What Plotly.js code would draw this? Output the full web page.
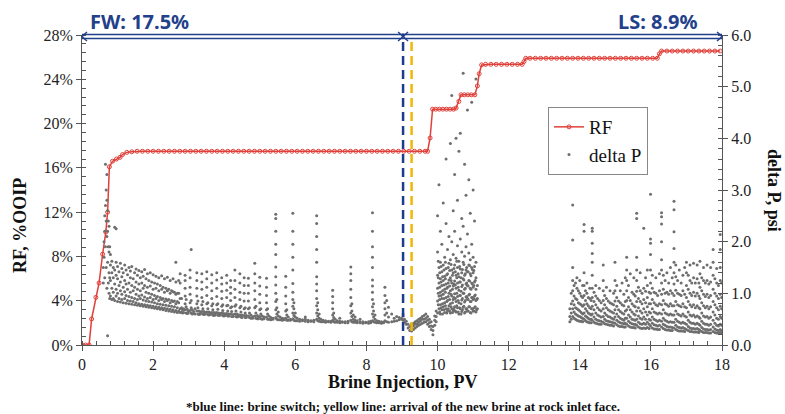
<!DOCTYPE html>
<html>
<head>
<meta charset="utf-8">
<script src="https://cdn.plot.ly/plotly-3.0.1.min.js"></script>
<style>html,body{margin:0;padding:0;background:#fff}#chart{width:785px;height:414px}</style>
</head>
<body>
<div id="chart"></div>
<script>
// ---------- RF (% OOIP) vs brine injection (PV) ----------
const rfPV = [0,0.1,0.2,0.27,0.39,0.48,0.58,0.67,0.72,0.77,0.86,0.97,1.07,1.14,1.26,
  1.40,1.55,1.70,1.85,2.00,2.15,2.30,2.45,2.60,2.75,2.90,3.05,3.20,3.35,3.50,3.65,3.80,3.95,
  4.10,4.25,4.40,4.55,4.70,4.85,5.00,5.15,5.30,5.45,5.60,5.75,5.90,6.05,6.20,6.35,6.50,6.65,
  6.80,6.95,7.10,7.25,7.40,7.55,7.70,7.85,8.00,8.15,8.30,8.45,8.60,8.75,8.90,9.05,9.20,9.35,
  9.50,9.65,9.72,9.79,9.86,9.95,10.05,10.15,10.25,10.35,10.45,10.52,10.60,10.66,10.75,10.85,
  10.95,11.05,11.12,11.17,11.24,11.35,11.50,11.65,11.80,11.95,12.10,12.25,12.38,12.43,12.48,
  12.60,12.75,12.90,13.05,13.20,13.35,13.50,13.65,13.80,13.95,14.10,14.25,14.40,14.55,14.70,
  14.85,15.00,15.15,15.30,15.45,15.60,15.75,15.90,16.05,16.18,16.24,16.30,16.45,16.60,16.75,
  16.90,17.05,17.20,17.35,17.50,17.65,17.80,17.95];
const rfPct = [0,0,0,2.35,4.3,5.6,8.2,10.2,12.0,16.1,16.6,16.8,16.95,17.2,17.4,
  17.45,17.5,17.5,17.5,17.5,17.5,17.5,17.5,17.5,17.5,17.5,17.5,17.5,17.5,17.5,17.5,17.5,17.5,
  17.5,17.5,17.5,17.5,17.5,17.5,17.5,17.5,17.5,17.5,17.5,17.5,17.5,17.5,17.5,17.5,17.5,17.5,
  17.5,17.5,17.5,17.5,17.5,17.5,17.5,17.5,17.5,17.5,17.5,17.5,17.5,17.5,17.5,17.5,17.5,17.5,
  17.5,17.5,17.5,18.7,21.3,21.3,21.3,21.3,21.3,21.3,21.3,21.4,22.0,22.6,22.6,22.6,
  22.6,22.6,23.4,24.5,25.3,25.35,25.35,25.35,25.35,25.35,25.35,25.35,25.35,25.6,25.9,
  25.9,25.9,25.9,25.9,25.9,25.9,25.9,25.9,25.9,25.9,25.9,25.9,25.9,25.9,25.9,
  25.9,25.9,25.9,25.9,25.9,25.9,25.9,25.9,25.9,25.9,26.3,26.55,26.55,26.55,26.55,
  26.55,26.55,26.55,26.55,26.55,26.55,26.55,26.55];

// ---------- delta P (psi): columns of [PV, [psi readings]] ----------
const dpRise = [
 [0.60,[1.2,1.5]],[0.62,[1.7,2.0]],[0.64,[1.3,2.2,2.5]],[0.66,[1.9,2.7,3.5]],[0.68,[1.5,2.4,3.0]],
 [0.70,[1.1,2.1,2.8,3.3]],[0.72,[0.18,1.6,2.2,2.6]],[0.74,[1.2,1.9,2.4]],[0.76,[1.0,1.4,1.8,2.3]],[0.78,[0.9,1.3,1.9]]];
const dpBandFW = [
 [0.80,[0.95,1.25,1.55,1.75]],[0.84,[0.88,1.1,1.4,1.62]],[0.88,[0.9,1.02,1.3,1.5]],[0.92,[0.86,1.18,1.45,2.28]],
 [0.96,[0.95,1.08,1.35,1.6,2.25]],[1.00,[0.84,1.0,1.28,1.52]],[1.04,[0.9,1.15,1.42]],[1.08,[0.83,1.05,1.22,1.58]],
 [1.12,[0.88,0.98,1.32,1.48]],[1.16,[0.82,1.12,1.4]],[1.20,[0.9,1.03,1.25,1.55]],[1.24,[0.81,0.96,1.18,1.45]],
 [1.28,[0.86,1.08,1.36]],[1.32,[0.8,0.94,1.2,1.5]],[1.36,[0.85,1.02,1.3,1.43]],[1.40,[0.79,0.92,1.15,1.52]],
 [1.44,[0.84,1.05,1.28]],[1.48,[0.78,0.9,1.12,1.4]],[1.52,[0.82,0.98,1.22,1.47]],[1.56,[0.77,0.88,1.08,1.35]],
 [1.60,[0.8,0.95,1.18,1.44]],[1.64,[0.76,0.9,1.05,1.3]],[1.68,[0.79,0.97,1.2,1.42]],[1.72,[0.75,0.87,1.1,1.33]],
 [1.76,[0.78,0.93,1.15,1.46]],[1.80,[0.74,0.85,1.02,1.28]],[1.84,[0.77,0.9,1.12,1.38]],[1.88,[0.73,0.84,1.0,1.25]],
 [1.92,[0.76,0.92,1.14,1.4]],[1.96,[0.72,0.83,0.98,1.22]],[2.00,[0.75,0.88,1.08,1.36]],[2.04,[0.71,0.82,0.96,1.2]],
 [2.08,[0.74,0.9,1.1,1.33]],[2.12,[0.7,0.8,0.94,1.18]],[2.16,[0.73,0.86,1.05,1.3]],[2.20,[0.69,0.79,0.92,1.15]],
 [2.24,[0.72,0.88,1.08,1.34]],[2.28,[0.68,0.78,0.9,1.12]],[2.32,[0.71,0.84,1.02,1.28]],[2.36,[0.67,0.77,0.89,1.1]],
 [2.40,[0.7,0.86,1.05,1.31]],[2.44,[0.66,0.76,0.88,1.08]],[2.48,[0.69,0.82,1.0,1.25]],[2.52,[0.65,0.75,0.86,1.05]],
 [2.56,[0.68,0.84,1.03,1.28]],[2.60,[0.64,0.74,0.85,1.02]],[2.64,[0.67,0.8,0.98,1.22,1.6]],[2.68,[0.63,0.72,0.84,1.0]],
 [2.72,[0.66,0.82,1.0,1.25]],[2.76,[0.63,0.7,0.9,1.2,1.38]]];
const dpSpikesA = [
 [2.80,[0.64,0.72,0.9]],[2.83,[0.62,0.68]],[2.86,[0.63,0.7]],[2.90,[0.68,0.8,0.95,1.1,1.25,1.35]],[2.93,[0.62,0.74,0.88]],
 [2.96,[0.61,0.69]],[2.99,[0.62,0.66]],[3.04,[0.67,0.82,0.98,1.12,1.3,1.45]],[3.07,[0.62,0.72,0.86,1.85]],[3.10,[0.6,0.68]],
 [3.14,[0.61,0.65]],[3.18,[0.6,0.7]],[3.23,[0.66,0.8,0.95,1.1,1.25,1.4]],[3.26,[0.6,0.72,0.85]],[3.29,[0.59,0.66]],
 [3.33,[0.6,0.64]],[3.37,[0.65,0.78,0.92,1.08,1.22,1.38]],[3.40,[0.6,0.7,0.84]],[3.43,[0.59,0.65]],[3.47,[0.6,0.63]],
 [3.51,[0.64,0.8,0.96,1.12,1.28,1.42]],[3.54,[0.59,0.7,0.82]],[3.57,[0.58,0.64]],[3.61,[0.59,0.62]],
 [3.65,[0.63,0.76,0.9,1.05,1.2,1.36]],[3.68,[0.58,0.68,0.8]],[3.71,[0.57,0.63]],[3.75,[0.58,0.62]],
 [3.79,[0.63,0.78,0.94,1.1,1.26,1.4]],[3.82,[0.58,0.69,0.8]],[3.85,[0.57,0.62]],[3.89,[0.58,0.61]],
 [3.93,[0.62,0.75,0.9,1.04,1.18,1.3]],[3.96,[0.57,0.67,0.78]],[3.99,[0.56,0.61]],[4.03,[0.57,0.6]],
 [4.07,[0.61,0.76,0.92,1.06,1.2,1.35]],[4.10,[0.56,0.66,0.77]],[4.13,[0.56,0.6]],[4.18,[0.6,0.72,0.86,1.0,1.12,1.25]],
 [4.21,[0.55,0.65,0.74]],[4.25,[0.55,0.59]],[4.30,[0.6,0.75,0.92,1.08,1.25,1.45]],[4.33,[0.55,0.66,0.78]],
 [4.36,[0.54,0.6]],[4.40,[0.55,0.58]],[4.44,[0.58,0.72,0.88,1.02,1.2,1.38]],[4.47,[0.54,0.64,0.75]],
 [4.50,[0.53,0.58]],[4.56,[0.57,0.7,0.85,1.0,1.15,1.3]],[4.59,[0.53,0.62,0.72]],[4.62,[0.53,0.57]]];
const dpSpikesB = [
 [4.68,[0.56,0.7,0.85,1.0,1.15,1.29]],[4.71,[0.53,0.62,0.72]],[4.75,[0.52,0.58]],[4.80,[0.52,0.55]],
 [4.86,[0.56,0.72,0.88,1.05,1.2,1.38,1.58]],[4.89,[0.52,0.62,0.75]],[4.93,[0.51,0.57]],[4.96,[0.51,0.54]],
 [5.00,[0.55,0.68,0.82,0.98,1.14,1.31]],[5.03,[0.51,0.6,0.7]],[5.07,[0.5,0.56]],[5.12,[0.51,0.54]],
 [5.19,[0.54,0.68,0.82,0.96,1.12,1.29]],[5.22,[0.5,0.6,0.7]],[5.26,[0.5,0.56]],[5.31,[0.49,0.53]],[5.37,[0.5,0.52]],
 [5.45,[0.53,0.68,0.84,1.0,1.16,1.32,1.51,1.75,1.95,2.2,2.45,2.53]],[5.48,[0.5,0.6,0.72,0.88]],[5.52,[0.49,0.56,0.64]],
 [5.57,[0.49,0.54]],[5.63,[0.48,0.52]],[5.68,[0.49,0.51]],[5.73,[0.52,0.66,0.8,0.95,1.12,1.33]],[5.76,[0.48,0.58,0.68]],
 [5.80,[0.48,0.54]],[5.86,[0.48,0.5]],[5.93,[0.51,0.62,0.75,0.88,1.02,1.19,1.45,1.7,1.95,2.2,2.55]],
 [5.96,[0.48,0.57,0.7,0.82]],[6.00,[0.47,0.54,0.62]],[6.05,[0.47,0.52]],[6.12,[0.46,0.5]],[6.20,[0.47,0.49]],
 [6.28,[0.46,0.5,0.54]],[6.36,[0.45,0.48]],[6.44,[0.46,0.47]],[6.52,[0.45,0.48]],
 [6.60,[0.5,0.62,0.76,0.9,1.05,1.18,1.32,1.6,1.85,2.1,2.35,2.5]],[6.63,[0.47,0.56,0.68,0.82]],[6.67,[0.46,0.52,0.6]],
 [6.72,[0.45,0.5]],[6.78,[0.45,0.48]],[6.85,[0.44,0.47]],[6.93,[0.45,0.46]],[7.00,[0.44,0.46]],
 [7.05,[0.48,0.58,0.7,0.82,0.94,1.06]],[7.08,[0.45,0.53,0.62]],[7.12,[0.44,0.5]],[7.18,[0.44,0.47]],
 [7.25,[0.43,0.46,0.52]],[7.32,[0.44,0.45]],[7.40,[0.43,0.45]],[7.48,[0.43,0.46]],
 [7.56,[0.48,0.62,0.76,0.92,1.08,1.25,1.38,1.51]],[7.59,[0.45,0.55,0.66,0.8]],[7.63,[0.44,0.5,0.58]],
 [7.68,[0.44,0.48,0.54]],[7.74,[0.43,0.47]],[7.82,[0.43,0.45,0.5]],[7.90,[0.42,0.45]],[7.98,[0.43,0.44]],
 [8.06,[0.42,0.45]],[8.12,[0.43,0.46]],[8.17,[0.47,0.6,0.74,0.88,1.02,1.14,1.26,1.5,1.7,1.9,2.2,2.56]],
 [8.20,[0.45,0.54,0.66,0.8]],[8.24,[0.44,0.5,0.58]],[8.29,[0.43,0.47]],[8.35,[0.43,0.46]],[8.42,[0.42,0.45]],
 [8.48,[0.43,0.44]],[8.52,[0.47,0.58,0.7,0.82,0.96,1.12]],[8.57,[0.45,0.62,0.86]],[8.62,[0.44,0.54,0.73]],
 [8.71,[0.45,0.6]],[8.78,[0.46,0.52]],[8.85,[0.47,0.55]],[8.92,[0.49,0.53]]];
const dpSwitch = [
 [8.99,[0.5,0.52]],[9.03,[0.48,0.56,0.6]],[9.07,[0.44,0.5]],[9.12,[0.4,0.46]],[9.17,[0.33,0.4]],[9.22,[0.28,0.36]],
 [9.27,[0.27,0.33,0.4]],[9.32,[0.3,0.37,0.42]],[9.37,[0.33,0.4,0.45]],[9.42,[0.36,0.41,0.47]],[9.47,[0.38,0.44,0.5]],
 [9.52,[0.4,0.47,0.52]],[9.57,[0.42,0.5,0.55]],[9.62,[0.44,0.5,0.57]],[9.67,[0.45,0.52,0.6]],[9.72,[0.4,0.48,0.55]],
 [9.77,[0.36,0.43,0.5]],[9.82,[0.3,0.37,0.45]],[9.87,[0.2,0.28,0.36]],[9.92,[0.38,0.48,0.56]],[9.96,[0.45,0.55,0.66]]];
const dpCloudLS = [
 [10.00,[0.62,0.85,1.1,1.35,1.8,2.5]],[10.02,[0.78,1.0,1.3,1.62]],[10.04,[0.7,0.95,1.2,1.5,3.1]],[10.06,[0.64,0.88,1.12,1.4]],
 [10.08,[0.6,0.78,1.02,1.28,1.6,2.2]],[10.10,[0.72,0.96,1.22,1.52]],[10.12,[0.68,0.9,1.15,1.42,1.95]],[10.14,[0.6,0.8,1.05,1.32]],
 [10.16,[0.74,0.98,1.25,1.55,2.75]],[10.18,[0.68,0.9,1.16,1.45]],[10.20,[0.63,0.82,1.08,1.33,1.7]],[10.22,[0.76,1.02,1.28,1.6]],
 [10.24,[0.7,0.92,1.18,1.48,2.35,3.6]],[10.26,[0.62,0.84,1.1,1.36]],[10.28,[0.66,0.86,1.12,1.38,1.85]],[10.30,[0.7,0.94,1.2,1.5]],
 [10.32,[0.76,1.0,1.26,1.58,2.1]],[10.34,[0.66,0.88,1.14,1.44]],[10.36,[0.62,0.8,1.05,1.3,1.65,3.9]],[10.38,[0.74,0.98,1.25,1.56]],
 [10.40,[0.7,0.95,1.2,1.45,2.0,4.83]],[10.42,[0.63,0.82,1.08,1.35]],[10.44,[0.66,0.88,1.14,1.4,1.75,2.6]],[10.46,[0.7,0.92,1.18,1.48]],
 [10.48,[0.74,0.99,1.24,1.55,2.2,3.3]],[10.50,[0.66,0.9,1.16,1.42]],[10.52,[0.64,0.84,1.1,1.35,1.68,4.0]],[10.54,[0.76,1.0,1.3,1.62]],
 [10.56,[0.72,0.94,1.2,1.5,1.92,2.8]],[10.58,[0.64,0.86,1.12,1.38]],[10.60,[0.6,0.82,1.06,1.32,1.62,3.75]],[10.62,[0.72,0.96,1.22,1.52]],
 [10.64,[0.7,0.96,1.22,1.47,2.05,4.1]],[10.66,[0.6,0.8,1.04,1.3]],[10.68,[0.65,0.87,1.13,1.4,1.8,2.45]],[10.70,[0.68,0.9,1.16,1.46]],
 [10.72,[0.73,1.0,1.28,1.6,2.3,5.26]],[10.74,[0.75,1.0,1.26,1.56]],[10.76,[0.62,0.83,1.08,1.35,1.72,3.5]],[10.78,[0.64,0.86,1.1,1.38]],
 [10.80,[0.7,0.93,1.18,1.45,1.9,2.9]],[10.82,[0.7,0.94,1.2,1.5]],[10.84,[0.66,0.9,1.15,1.42,2.15,4.55]],[10.86,[0.66,0.88,1.14,1.42]],
 [10.88,[0.74,0.97,1.25,1.55,1.78,3.2]],[10.90,[0.74,0.98,1.24,1.54]],[10.92,[0.63,0.84,1.1,1.38,1.65,2.55]],[10.94,[0.62,0.84,1.08,1.34]],
 [10.96,[0.7,0.92,1.2,1.5,1.95,4.7]],[10.98,[0.7,0.92,1.18,1.46]],[11.00,[0.66,0.88,1.12,1.4,1.7,3.0]],[11.02,[0.66,0.9,1.15,1.44]],
 [11.04,[0.72,0.95,1.22,1.52,2.4]],[11.06,[0.74,0.97,1.25]],[11.08,[0.64,0.86,1.08,1.3,1.6,5.15]],[11.10,[0.68,0.88]],[11.12,[0.7,0.9,1.15]]];
const dpBandLS = [
 [13.72,[0.45,0.55,0.7]],[13.76,[0.5,0.62,0.8,1.0]],[13.80,[0.55,0.7,0.85,1.05,1.25,1.5,2.03,2.71]],[13.84,[0.52,0.64,0.78,0.95,1.15]],
 [13.88,[0.5,0.6,0.72,0.9,1.2]],[13.92,[0.48,0.58,0.7,0.88,1.1,1.3]],[13.96,[0.47,0.56,0.68,0.82,1.05]],[14.00,[0.46,0.55,0.66,0.8,1.0,1.25]],
 [14.04,[0.46,0.53,0.63,0.78,0.95]],[14.08,[0.45,0.52,0.6,0.75,0.92,1.15]],[14.12,[0.5,0.62,0.78,0.96,1.15,1.4,2.2,2.33]],
 [14.16,[0.47,0.56,0.7,0.86,1.05]],[14.20,[0.45,0.54,0.66,0.8,1.0,1.2]],[14.24,[0.44,0.52,0.62,0.76,0.92]],[14.28,[0.43,0.5,0.6,0.72,0.9,1.1]],
 [14.32,[0.43,0.5,0.58,0.7,0.86]],[14.35,[0.48,0.6,0.75,0.92,1.1,1.35,1.6,1.77,1.97,2.2,2.26]],[14.40,[0.44,0.54,0.68,0.84,1.02]],
 [14.45,[0.42,0.5,0.62,0.78,0.95,1.15]],[14.50,[0.41,0.48,0.58,0.72,0.9]],[14.55,[0.4,0.47,0.56,0.68,0.86,1.1]],[14.60,[0.4,0.46,0.54,0.66,0.82]],
 [14.66,[0.44,0.55,0.7,0.86,1.05,1.25,1.55]],[14.70,[0.41,0.5,0.62,0.78,0.96]],[14.75,[0.4,0.47,0.58,0.72,0.9,1.12]],[14.80,[0.39,0.46,0.55,0.68,0.85]],
 [14.85,[0.38,0.45,0.54,0.66,0.82,1.05]],[14.90,[0.38,0.44,0.52,0.64,0.8]],[14.95,[0.37,0.43,0.5,0.62,0.78,1.0]],
 [14.99,[0.42,0.54,0.68,0.85,1.05,1.25,1.6]],[15.04,[0.39,0.48,0.6,0.75,0.92,1.15]],[15.09,[0.37,0.45,0.55,0.68,0.85]],
 [15.14,[0.36,0.43,0.52,0.65,0.82,1.05]],[15.19,[0.36,0.42,0.5,0.62,0.78,1.2]],[15.24,[0.35,0.41,0.48,0.6,0.76,0.98]],
 [15.28,[0.35,0.42,0.52,0.66,0.84,1.3]],[15.32,[0.4,0.52,0.68,0.86,1.05,1.25,1.45,1.7]],[15.37,[0.37,0.46,0.58,0.74,0.92,1.15]],
 [15.42,[0.35,0.43,0.54,0.68,0.86,1.38]],[15.47,[0.34,0.41,0.5,0.64,0.8,1.02]],[15.52,[0.34,0.4,0.49,0.6,0.76,0.98,1.3]],
 [15.56,[0.33,0.4,0.48,0.58,0.74,0.95]],[15.60,[0.38,0.5,0.66,0.84,1.04,1.25,1.45,1.7,2.45,2.55]],[15.65,[0.35,0.44,0.56,0.72,0.9,1.12]],
 [15.70,[0.33,0.41,0.52,0.66,0.84,1.05,1.4]],[15.75,[0.32,0.4,0.5,0.62,0.8,1.0]],[15.80,[0.33,0.42,0.54,0.7,0.88,1.1,2.26]],
 [15.85,[0.32,0.4,0.5,0.64,0.82,1.04,1.3]],[15.90,[0.34,0.44,0.58,0.74,0.92,1.15,1.45]],[15.95,[0.32,0.4,0.5,0.64,0.8,1.02]],
 [15.99,[0.37,0.48,0.62,0.8,1.0,1.2,1.45,1.75,1.97,2.05,2.92]],[16.04,[0.33,0.42,0.54,0.7,0.88,1.1,1.35]],
 [16.09,[0.31,0.39,0.5,0.64,0.82,1.02]],[16.14,[0.31,0.38,0.48,0.62,0.78,1.0,1.3]],[16.19,[0.3,0.37,0.46,0.6,0.76,0.96]],
 [16.24,[0.3,0.38,0.48,0.62,0.8,1.05,1.38]],[16.30,[0.35,0.46,0.6,0.78,0.98,1.2,1.45,1.65,2.0,2.34,2.48,2.56]],
 [16.35,[0.32,0.4,0.52,0.68,0.86,1.08,1.35]],[16.40,[0.3,0.38,0.48,0.62,0.8,1.0,1.25]],[16.45,[0.29,0.36,0.46,0.6,0.78,1.02,1.4]],
 [16.50,[0.29,0.35,0.44,0.58,0.75,0.98,1.2]],[16.55,[0.28,0.35,0.45,0.6,0.8,1.05,1.5]],[16.60,[0.28,0.34,0.44,0.58,0.76,1.0,1.3]],
 [16.65,[0.33,0.44,0.58,0.76,0.96,1.18,1.4,1.6,1.87,2.19,2.62,2.78]],[16.70,[0.3,0.38,0.5,0.66,0.84,1.06,1.32,1.55]],
 [16.75,[0.28,0.35,0.46,0.6,0.78,1.0,1.25]],[16.80,[0.27,0.34,0.44,0.58,0.76,0.98,1.45]],[16.85,[0.27,0.33,0.42,0.56,0.74,0.96,1.2]],
 [16.90,[0.27,0.34,0.44,0.6,0.8,1.05,1.35]],[16.95,[0.26,0.32,0.42,0.56,0.74,0.98,1.5]],[17.00,[0.3,0.4,0.54,0.72,0.92,1.15,1.4,1.6]],
 [17.05,[0.28,0.36,0.48,0.64,0.84,1.08,1.35]],[17.10,[0.26,0.33,0.44,0.58,0.78,1.0,1.25,1.55]],[17.15,[0.26,0.32,0.42,0.56,0.74,0.96,1.2]],
 [17.20,[0.25,0.32,0.42,0.58,0.78,1.02,1.3,1.58]],[17.25,[0.25,0.31,0.4,0.54,0.72,0.95,1.2]],[17.30,[0.25,0.32,0.42,0.56,0.76,1.0,1.28,1.55]],
 [17.35,[0.24,0.3,0.4,0.54,0.72,0.95,1.2]],[17.38,[0.28,0.38,0.52,0.7,0.9,1.12,1.38,1.62]],[17.43,[0.26,0.34,0.46,0.62,0.82,1.05,1.3]],
 [17.48,[0.24,0.31,0.42,0.56,0.76,0.98,1.25,1.5]],[17.53,[0.24,0.3,0.4,0.54,0.72,0.94,1.2]],[17.58,[0.24,0.3,0.4,0.55,0.75,0.98,1.25,1.55]],
 [17.63,[0.23,0.29,0.38,0.52,0.7,0.92,1.18]],[17.68,[0.23,0.3,0.4,0.54,0.74,0.96,1.22,1.5]],[17.75,[0.26,0.35,0.48,0.64,0.84,1.08,1.35,1.6,1.85]],
 [17.80,[0.24,0.31,0.42,0.58,0.78,1.0,1.28]],[17.85,[0.23,0.29,0.38,0.52,0.72,0.95,1.2,1.48]],[17.90,[0.23,0.28,0.37,0.5,0.68,0.9,1.15]],
 [17.95,[0.24,0.3,0.4,0.55,0.75,0.98,1.25,1.5,1.85,2.14]],[17.99,[0.23,0.28,0.38,0.52,0.7,0.92,1.2]]];

const brineSwitchPV = 9.03;
const brineArrivalPV = 9.27;
const labelFW = 'FW: 17.5%';
const labelLS = 'LS: 8.9%';

// flatten delta-P columns into x/y lists
const dpX = [], dpY = [];
[dpRise, dpBandFW, dpSpikesA, dpSpikesB, dpSwitch, dpCloudLS, dpBandLS].forEach(function (region) {
  region.forEach(function (col) { col[1].forEach(function (v) { dpX.push(col[0]); dpY.push(v); }); });
});

const serif = 'Liberation Serif, Times New Roman, serif';
const navy = '#23408a';
const red = '#e0403a';
const axisCol = '#555';

const traces = [
  { x: rfPV, y: rfPct, name: 'RF', type: 'scatter', mode: 'lines+markers', yaxis: 'y',
    line: { color: red, width: 1.5 },
    marker: { symbol: 'circle-open', size: 4, color: red, line: { width: 1, color: red } } },
  { x: dpX, y: dpY, name: 'delta P', type: 'scatter', mode: 'markers', yaxis: 'y2',
    marker: { symbol: 'circle', size: 3, color: '#6e6e6e' } }
];

// arrow geometry helpers (paper coordinates)
function px2py(p) { return (345 - p) / 310; }
function pv2px(v) { return v / 18; }
const yU = px2py(34.5), yL = px2py(38.5), yM = px2py(36.5), yHt = px2py(32), yHb = px2py(41);
const hw = 0.14 / 18;
const sw = pv2px(brineSwitchPV);
function line(x0, x1, y) { return { type: 'line', xref: 'paper', yref: 'paper', x0: x0, x1: x1, y0: y, y1: y, line: { color: navy, width: 1.4 } }; }
function chevron(xv, dir) {
  const xa = xv - dir * hw;
  return { type: 'path', xref: 'paper', yref: 'paper',
    path: 'M ' + xa + ',' + yHt + ' L ' + xv + ',' + yM + ' L ' + xa + ',' + yHb,
    line: { color: navy, width: 1.5 } };
}

const shapes = [
  line(0, sw, yU), line(0, sw, yL), line(sw, 1, yU), line(sw, 1, yL),
  chevron(0, -1), chevron(sw, 1), chevron(sw, -1), chevron(1, 1),
  { type: 'line', xref: 'x', yref: 'paper', x0: brineSwitchPV, x1: brineSwitchPV, y0: 0, y1: 1.005,
    line: { color: '#1f3b8c', width: 2.5, dash: '9px,5px' } },
  { type: 'line', xref: 'x', yref: 'paper', x0: brineArrivalPV, x1: brineArrivalPV, y0: 0, y1: 0.99,
    line: { color: '#f2b705', width: 2.5, dash: '9px,5px' } }
];

const annotations = [
  { text: '<b>' + labelFW + '</b>', xref: 'paper', yref: 'paper', x: 6 / 640, y: px2py(22), xanchor: 'left', yanchor: 'middle',
    showarrow: false, font: { family: 'Noto Sans, Open Sans, sans-serif', size: 20, color: navy } },
  { text: '<b>' + labelLS + '</b>', xref: 'paper', yref: 'paper', x: (700 - 82) / 640, y: px2py(22), xanchor: 'right', yanchor: 'middle',
    showarrow: false, font: { family: 'Noto Sans, Open Sans, sans-serif', size: 20, color: navy } },
  { text: '<b>Brine Injection, PV</b>', xref: 'paper', yref: 'paper', x: 0.5, y: px2py(382), xanchor: 'center', yanchor: 'middle',
    showarrow: false, font: { family: serif, size: 18, color: '#111' } },
  { text: '<b>RF, %OOIP</b>', xref: 'paper', yref: 'paper', x: (20 - 82) / 640, y: px2py(226), xanchor: 'center', yanchor: 'middle',
    textangle: -90, showarrow: false, font: { family: serif, size: 18, color: '#111' } },
  { text: '<b>delta P, psi</b>', xref: 'paper', yref: 'paper', x: (774 - 82) / 640, y: px2py(190), xanchor: 'center', yanchor: 'middle',
    textangle: 90, showarrow: false, font: { family: serif, size: 18, color: '#111' } },
  { text: '<b>*blue line: brine switch; yellow line: arrival of the new brine at rock inlet face.</b>', xref: 'paper', yref: 'paper',
    x: (403 - 82) / 640, y: px2py(406), xanchor: 'center', yanchor: 'middle',
    showarrow: false, font: { family: serif, size: 13, color: '#111' } }
];

const layout = {
  width: 785, height: 414,
  margin: { l: 82, r: 63, t: 35, b: 69, pad: 0 },
  paper_bgcolor: '#fff', plot_bgcolor: '#fff',
  showlegend: true,
  legend: { x: (548 - 82) / 640, y: px2py(107), xanchor: 'left', yanchor: 'top',
    bgcolor: '#fff', bordercolor: '#888', borderwidth: 1,
    font: { family: serif, size: 19, color: '#111' }, tracegroupgap: 0 },
  xaxis: { range: [0, 18], dtick: 2, tick0: 0, showgrid: false, zeroline: false,
    showline: true, linecolor: axisCol, linewidth: 1, ticks: 'outside', ticklen: 5, tickcolor: axisCol,
    minor: { dtick: 0.4, ticks: 'inside', ticklen: 4, tickcolor: axisCol, showgrid: false },
    tickfont: { family: serif, size: 16, color: '#222' } },
  yaxis: { range: [0, 28], dtick: 4, tick0: 0, ticksuffix: '%', showgrid: false, zeroline: false,
    showline: true, linecolor: axisCol, linewidth: 1, ticks: 'outside', ticklen: 5, tickcolor: axisCol,
    minor: { dtick: 0.8, ticks: 'inside', ticklen: 4, tickcolor: axisCol, showgrid: false },
    tickfont: { family: serif, size: 16, color: '#222' } },
  yaxis2: { range: [0, 6], dtick: 1, tick0: 0, tickformat: '.1f', overlaying: 'y', side: 'right',
    showgrid: false, zeroline: false, showline: true, linecolor: axisCol, linewidth: 1,
    ticks: 'outside', ticklen: 5, tickcolor: axisCol,
    minor: { dtick: 0.2, ticks: 'inside', ticklen: 4, tickcolor: axisCol, showgrid: false },
    tickfont: { family: serif, size: 16, color: '#222' } },
  shapes: shapes,
  annotations: annotations
};

Plotly.newPlot('chart', traces, layout, { displayModeBar: false, staticPlot: true });
</script>
</body>
</html>
